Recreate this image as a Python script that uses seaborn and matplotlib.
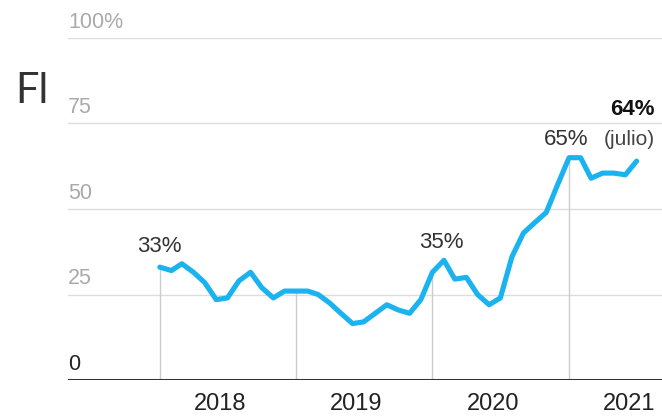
import pandas as pd
import seaborn as sns
import matplotlib.pyplot as plt
import matplotlib.transforms as mtransforms

# monthly share, Jan 2018 .. Jul 2021
months = pd.date_range('2018-01-01', '2021-07-01', freq='MS')
share = [
    33, 32, 34, 31.5, 28.5, 23.5, 24, 29, 31.5, 27, 24, 26,        # 2018
    26, 26, 25, 22.5, 19.5, 16.5, 17, 19.5, 22, 20.5, 19.5, 23.5,  # 2019
    31.5, 35, 29.5, 30, 25, 22, 24, 36, 43, 46, 49, 57,            # 2020
    65, 65, 59, 60.5, 60.5, 60, 64,                                # 2021
]
years = [2018, 2019, 2020, 2021]
y_ticks = [0, 25, 50, 75, 100]
y_labels = ['0', '25', '50', '75', '100%']

df = pd.DataFrame({'month': months, 'share': share})

sns.set_theme(style='white')
plt.rcParams['font.family'] = ['Liberation Sans', 'DejaVu Sans']

fig = plt.figure(figsize=(6.62, 4.19), dpi=100)
ax = fig.add_axes([68 / 662, 39 / 419, 594 / 662, 342 / 419])

# grid and baseline
for v in y_ticks[1:]:
    ax.axhline(v, color='#dddddd', lw=1, zorder=1)
ax.axhline(0, color='#333333', lw=2.2, zorder=4)

# year separators, from baseline up to the line
jan = [pd.Timestamp(f'{y}-01-01') for y in years]
jan_vals = df.set_index('month').loc[jan, 'share'].values
ax.vlines(jan, 0, jan_vals, color='#cccccc', lw=1, zorder=1)

sns.lineplot(data=df, x='month', y='share', ax=ax, color='#1ab3f0',
             linewidth=3.7, zorder=3)

ax.set_xlim(pd.Timestamp('2017-04-30'), pd.Timestamp('2021-09-07'))
ax.set_ylim(0, 100)
for s in ax.spines.values():
    s.set_visible(False)

# y labels sitting above the gridlines (zero is dark)
trans = mtransforms.blended_transform_factory(ax.transAxes, ax.transData)
for v, lab in zip(y_ticks, y_labels):
    ax.text(0, v + 3.0, lab, transform=trans, ha='left', va='baseline',
            fontsize=15.5, color='#222222' if v == 0 else '#aaaaaa')
ax.set_yticks([])

# year labels
ax.set_xticks([pd.Timestamp(f'{y}-06-12') for y in years])
ax.set_xticklabels([str(y) for y in years], fontsize=17, color='#222222')
ax.tick_params(axis='x', length=0, pad=9)
ax.set_xlabel('')
ax.set_ylabel('')

# annotations
txt = dict(fontsize=16, color='#333333', va='baseline', ha='center')
ax.text(pd.Timestamp('2018-01-01'), 37.5, '33%', **txt)
ax.text(pd.Timestamp('2020-01-25'), 38.6, '35%', **txt)
ax.text(pd.Timestamp('2020-12-25'), 68.7, '65%', **txt)
ax.text(pd.Timestamp('2021-08-19'), 77.5, '64%', fontsize=16,
        fontweight='bold', color='#111111', ha='right', va='baseline')
ax.text(pd.Timestamp('2021-08-19'), 68.7, '(julio)', fontsize=15,
        color='#444444', ha='right', va='baseline')

fig.text(15 / 662, 1 - 103 / 419, 'Fl', fontsize=30, color='#333333',
         va='baseline', ha='left', family=['Lato', 'DejaVu Sans'])

fig.savefig('out.png', dpi=100, facecolor='white')
